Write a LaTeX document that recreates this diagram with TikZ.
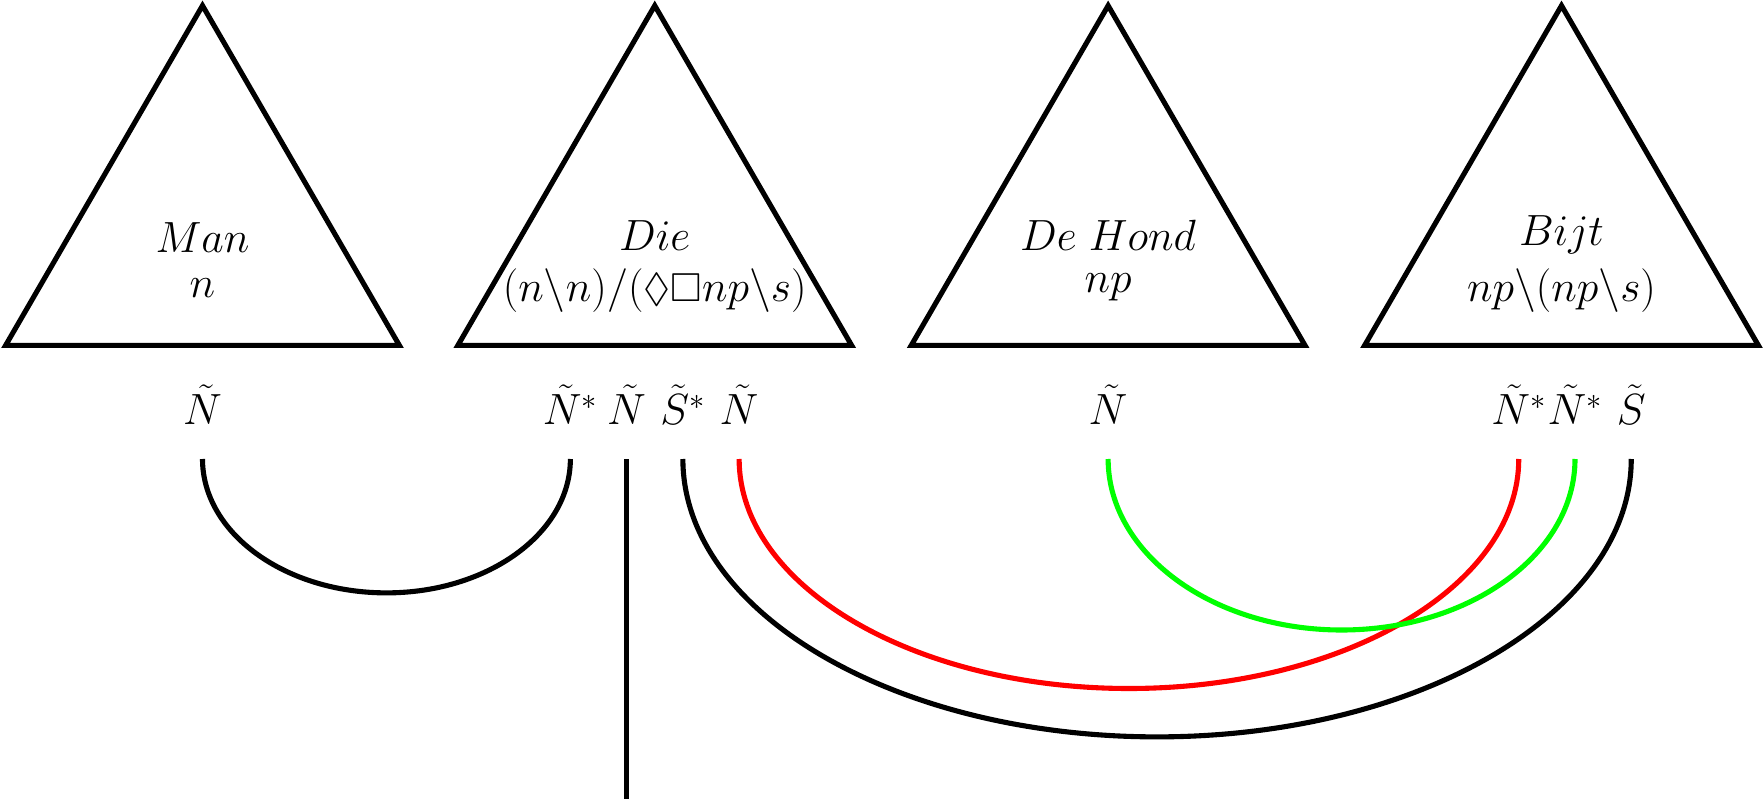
\documentclass[tikz,border=0pt]{standalone}
\usepackage{amssymb}
\begin{document}
\begin{tikzpicture}[x=0.0225cm,y=-0.0225cm,line width=2.9pt,
  lbl/.style={font=\fontsize{23}{27}\selectfont,inner sep=0pt},
  tri/.style={draw,line join=miter}]
\useasboundingbox (0,0) rectangle (1568,714);
\foreach \c in {180,582,985,1388}{
  \draw[tri] (\c,5) -- (\c-175,307) -- (\c+175,307) -- cycle;
}
\node[lbl] (w1) at (180,211) {$Man$};
\node[lbl] (c1) at (180,256) {$n$};
\node[lbl] (w2) at (582,209) {$Die$};
\node[lbl] (c2) at (582,258) {$(n\backslash n)/(\Diamond\Box np\backslash s)$};
\node[lbl] (w3) at (985,209) {$De\;Hond$};
\node[lbl] (c3) at (985,255) {$np$};
\node[lbl] (w4) at (1388,209) {$Bijt$};
\node[lbl] (c4) at (1388,258) {$np\backslash(np\backslash s)$};
\foreach \x/\t/\n in {180/{\tilde N}/a,507/{\tilde N^*}/b,557/{\tilde N}/c,607/{\tilde S^*}/d,657/{\tilde N}/e,985/{\tilde N}/f,1350/{\tilde N^*}/g,1400/{\tilde N^*}/h,1450/{\tilde S}/i}{
  \node[lbl] (l\n) at (\x,360) {$\t$};
  \coordinate (p\n) at (\x,408);
}
\coordinate (bot) at (557,710);
\draw (pa) arc[start angle=180,end angle=0,x radius=163.5,y radius=119];
\draw (pc) -- (bot);
\draw (pd) arc[start angle=180,end angle=0,x radius=421.5,y radius=247];
\draw[red] (pe) arc[start angle=180,end angle=0,x radius=346.5,y radius=204];
\draw[green] (pf) arc[start angle=180,end angle=0,x radius=207.5,y radius=152];
\end{tikzpicture}
\end{document}
